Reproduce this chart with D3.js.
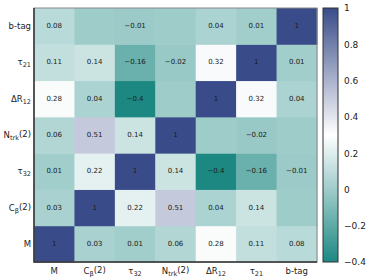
<!DOCTYPE html>
<html>
<head>
<meta charset="utf-8">
<script src="https://cdn.jsdelivr.net/npm/d3@7"></script>
<style>
  body { margin: 0; background: #fff; }
  text { font-family: "DejaVu Sans", sans-serif; fill: #222; }
</style>
</head>
<body>
<svg id="chart"></svg>
<script>
// Set data
const variables = ["M", "Cb", "t32", "Ntrk", "dR", "t21", "btag"];
// label pieces: [base, subscript, suffix]
const labels = {
    M: ["M", "", ""],
    Cb: ["C", "\u03b2", "(2)"],
    t32: ["\u03c4", "32", ""],
    Ntrk: ["N", "trk", "(2)"],
    dR: ["\u0394R", "12", ""],
    t21: ["\u03c4", "21", ""],
    btag: ["b-tag", "", ""]
};
// correlation matrix, rows/cols in the order of variables
const corr = [
    [1, 0.03, 0.01, 0.06, 0.28, 0.11, 0.08],
    [0.03, 1, 0.22, 0.51, 0.04, 0.14, 0],
    [0.01, 0.22, 1, 0.14, -0.4, -0.16, -0.01],
    [0.06, 0.51, 0.14, 1, 0, -0.02, 0],
    [0.28, 0.04, -0.4, 0, 1, 0.32, 0.04],
    [0.11, 0.14, -0.16, -0.02, 0.32, 1, 0.01],
    [0.08, 0, -0.01, 0, 0.04, 0.01, 1]
];
const colorTicks = [-0.4, -0.2, 0, 0.2, 0.4, 0.6, 0.8, 1];

// Set width and height
const width = 374;
const height = 280;
const plot = {left: 34, top: 8, right: 317, bottom: 262};
const bar = {left: 323, right: 338};

const svg = d3.select("#chart")
    .attr("width", width)
    .attr("height", height);

const x = d3.scaleBand().domain(variables).range([plot.left, plot.right]);
const y = d3.scaleBand().domain(variables.slice().reverse()).range([plot.top, plot.bottom]);
const color = d3.scaleLinear()
    .domain([-0.4, 0.3, 1])
    .range(["#1d8882", "#ffffff", "#394c89"]);

const cells = [];
corr.forEach((row, i) => row.forEach((v, j) => {
    cells.push({row: variables[i], col: variables[j], value: v});
}));

svg.append("g").selectAll("rect")
    .data(cells)
    .join("rect")
    .attr("x", d => x(d.col))
    .attr("y", d => y(d.row))
    .attr("width", x.bandwidth() + 0.5)
    .attr("height", y.bandwidth() + 0.5)
    .attr("fill", d => color(d.value));

// values (zeros are left blank)
svg.append("g").selectAll("text")
    .data(cells.filter(d => d.value !== 0))
    .join("text")
    .attr("x", d => x(d.col) + x.bandwidth() / 2)
    .attr("y", d => y(d.row) + y.bandwidth() / 2)
    .attr("text-anchor", "middle")
    .attr("dominant-baseline", "central")
    .style("font-size", "7px")
    .style("fill", "#1a1a1a")
    .text(d => d3.format("")(d.value));

// frame
svg.append("rect")
    .attr("x", plot.left).attr("y", plot.top)
    .attr("width", plot.right - plot.left).attr("height", plot.bottom - plot.top)
    .attr("fill", "none").attr("stroke", "#888").attr("stroke-width", 1);
svg.append("path")
    .attr("d", `M${plot.left},${plot.top}V${plot.bottom}H${plot.right}`)
    .attr("fill", "none").attr("stroke", "#333").attr("stroke-width", 1.5);

const drawLabel = function(sel, key){
    const [base, sub, suffix] = labels[key];
    sel.append("tspan").text(base);
    if (sub) sel.append("tspan").attr("dy", "0.3em").style("font-size", "6.5px").text(sub);
    if (suffix) sel.append("tspan").attr("dy", "-0.3em").text(suffix);
}

// y labels
variables.forEach(v => {
    const t = svg.append("text")
        .attr("x", plot.left - 3)
        .attr("y", y(v) + y.bandwidth() / 2 + 3)
        .attr("text-anchor", "end")
        .style("font-size", "8.5px");
    drawLabel(t, v);
});
// x labels
variables.forEach(v => {
    const t = svg.append("text")
        .attr("x", x(v) + x.bandwidth() / 2)
        .attr("y", plot.bottom + 12)
        .attr("text-anchor", "middle")
        .style("font-size", "8.5px");
    drawLabel(t, v);
});

// colorbar
const cbScale = d3.scaleLinear().domain([-0.4, 1]).range([plot.bottom, plot.top]);
const defs = svg.append("defs");
const grad = defs.append("linearGradient")
    .attr("id", "cbgrad").attr("x1", 0).attr("y1", 1).attr("x2", 0).attr("y2", 0);
d3.range(0, 1.0001, 0.05).forEach(t => {
    grad.append("stop")
        .attr("offset", t)
        .attr("stop-color", color(-0.4 + t * 1.4));
});
svg.append("rect")
    .attr("x", bar.left).attr("y", plot.top)
    .attr("width", bar.right - bar.left).attr("height", plot.bottom - plot.top)
    .attr("fill", "url(#cbgrad)")
    .attr("stroke", "#333").attr("stroke-width", 1);

const cbAxis = d3.axisRight(cbScale)
    .tickValues(colorTicks)
    .tickSize(0)
    .tickPadding(6)
    .tickFormat(d3.format(""));
const cbG = svg.append("g")
    .attr("transform", `translate(${bar.right},0)`)
    .call(cbAxis);
cbG.select(".domain").remove();
cbG.selectAll("text")
    .style("font-family", "DejaVu Sans, sans-serif")
    .style("font-size", "9px")
    .attr("fill", "#222");
</script>
</body>
</html>
